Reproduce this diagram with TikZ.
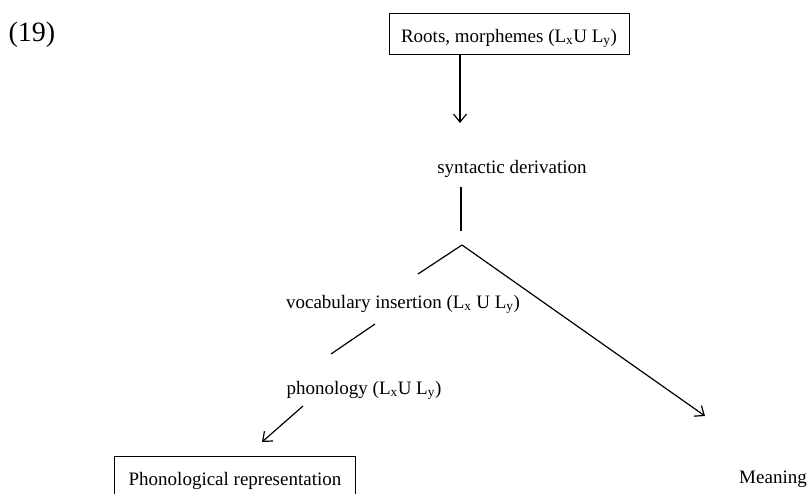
\documentclass[tikz,border=0pt]{standalone}
\usepackage{fontspec}
\setmainfont{Liberation Serif}
\usetikzlibrary{arrows.meta}

\begin{document}
\begin{tikzpicture}[x=1pt, y=-1pt, line width=1.2pt,
    >={Straight Barb[length=8pt,width=13pt]},
    every node/.style={font=\fontsize{19}{22}\selectfont, inner sep=0pt},
    box/.style={draw, line width=0.9pt, inner xsep=11pt, inner ysep=6pt, text height=23pt, text depth=6pt}]
      \useasboundingbox (0,0) rectangle (808,493);

      \node (num) at (32,35) {\fontsize{28}{30}\selectfont (19)};

      % input and syntax
      \node[box, minimum width=240pt, anchor=base] (roots) at (509,42) {Roots, morphemes (L\textsubscript{x}U L\textsubscript{y})};
      \coordinate (synin) at (460,123);
      \draw[->] (roots.south -| synin) -- (synin);

      \node[anchor=base] (syn) at (512,173) {syntactic derivation};
      \coordinate (syntop) at (461,187);
      \coordinate (synbot) at (461,231);
      \draw (syntop) -- (synbot);

      % split to the two interfaces
      \coordinate (split) at (462,245);
      \coordinate (leftend) at (418,274);
      \coordinate (semin) at (705,416);
      \draw (split) -- (leftend);
      \draw[->] (split) -- (semin);

      \node[anchor=base] (vocab) at (403,308) {vocabulary insertion (L\textsubscript{x} U L\textsubscript{y})};
      \coordinate (vtop) at (375,324);
      \coordinate (vbot) at (331,354);
      \draw (vtop) -- (vbot);

      \node[anchor=base] (phon) at (364,394) {phonology (L\textsubscript{x}U L\textsubscript{y})};
      \coordinate (ptop) at (303,406);
      \coordinate (pbot) at (262,442);
      \draw[->] (ptop) -- (pbot);

      % outputs
      \node[box, minimum width=241pt, anchor=base, text height=20pt, text depth=8pt, inner ysep=9pt] (pr) at (235,485) {Phonological representation};
      \node[anchor=base] (mean) at (773,483) {Meaning};
    \end{tikzpicture}
\end{document}
